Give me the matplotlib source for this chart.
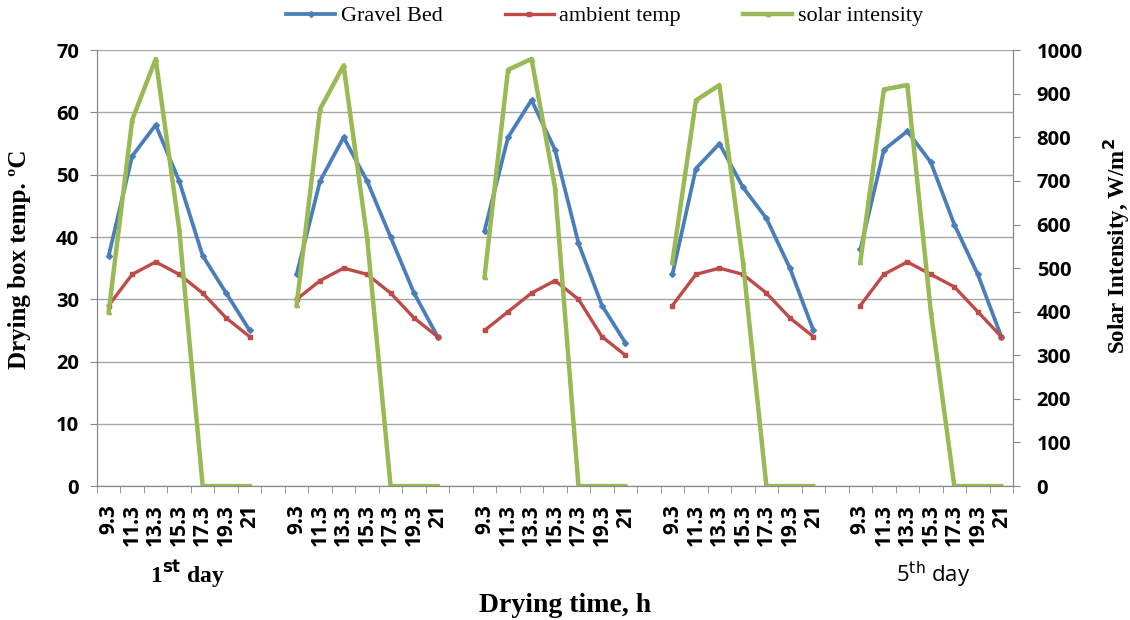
import numpy as np
import matplotlib.pyplot as plt

# drying time labels for one day, repeated for 5 days with a blank slot between days
hours = ['9.3', '11.3', '13.3', '15.3', '17.3', '19.3', '21']

gravel_bed = [
    [37, 53, 58, 49, 37, 31, 25],
    [34, 49, 56, 49, 40, 31, 24],
    [41, 56, 62, 54, 39, 29, 23],
    [34, 51, 55, 48, 43, 35, 25],
    [38, 54, 57, 52, 42, 34, 24],
]
ambient_temp = [
    [29, 34, 36, 34, 31, 27, 24],
    [30, 33, 35, 34, 31, 27, 24],
    [25, 28, 31, 33, 30, 24, 21],
    [29, 34, 35, 34, 31, 27, 24],
    [29, 34, 36, 34, 32, 28, 24],
]
solar_intensity = [
    [400, 840, 980, 590, 0, 0, 0],
    [415, 865, 965, 570, 0, 0, 0],
    [480, 955, 980, 685, 0, 0, 0],
    [515, 885, 920, 515, 0, 0, 0],
    [515, 910, 920, 400, 0, 0, 0],
]

def with_gaps(days):
    out = []
    for i, d in enumerate(days):
        out += list(d)
        if i < len(days) - 1:
            out.append(np.nan)
    return np.array(out, dtype=float)

labels = []
for i in range(5):
    labels += hours
    if i < 4:
        labels.append('')
x = np.arange(len(labels))

blue = '#4A7EBB'
red = '#BE4B48'
green = '#98B954'
serif = 'Liberation Serif'
sans = 'Open Sans'

fig = plt.figure(figsize=(11.3, 6.2), dpi=100)
ax = fig.add_subplot(1, 1, 1)
fig.subplots_adjust(left=0.0858, right=0.8965, top=0.919, bottom=0.216)
ax2 = ax.twinx()

l1, = ax.plot(x, with_gaps(gravel_bed), color=blue, lw=2.7, marker='D', ms=3, label='Gravel Bed')
l2, = ax.plot(x, with_gaps(ambient_temp), color=red, lw=2.4, marker='s', ms=3.5, label='ambient temp')
l3, = ax2.plot(x, with_gaps(solar_intensity), color=green, lw=3.2, marker='^', ms=3, label='solar intensity')

ax.set_ylim(0, 70)
ax.set_yticks(np.arange(0, 71, 10))
ax2.set_ylim(0, 1000)
ax2.set_yticks(np.arange(0, 1001, 100))
ax.set_xlim(-0.5, len(labels) - 0.5)

ax.set_xticks(x)
ax.set_xticklabels(labels, rotation=90, fontsize=15, fontweight='bold', family=sans)
ax.set_xticks(np.arange(-0.5, len(labels), 1), minor=True)
ax.tick_params(axis='x', which='major', length=0, pad=13)
ax.tick_params(axis='x', which='minor', length=5, color='#888888')

ax.grid(axis='y', color='#A6A6A6', lw=1)
ax.set_axisbelow(True)
for a in (ax, ax2):
    for s in a.spines.values():
        s.set_color('#888888')
    a.spines['top'].set_visible(False)
ax.tick_params(axis='y', length=5, color='#888888', pad=8)
ax2.tick_params(axis='y', length=5, color='#888888', pad=12)
for t in ax.get_yticklabels() + ax2.get_yticklabels():
    t.set_fontsize(14.5)
    t.set_fontweight('bold')
    t.set_family(sans)

ax.set_ylabel('Drying box temp. ºC', fontsize=18, fontweight='bold', family=serif)
ax.yaxis.set_label_coords(-0.072, 0.52)
ax2.set_ylabel(r'Solar Intensity, W/m$^\mathbf{2}$', fontsize=16.5, fontweight='bold', family=serif)
ax2.yaxis.set_label_coords(1.097, 0.55)

fig.text(0.5, 0.024, 'Drying time, h', ha='center', va='center', fontsize=20, fontweight='bold', family=serif)
fig.text(0.166, 0.073, r'1$^{\mathbf{st}}$ day', ha='center', va='center', fontsize=17, fontweight='bold', family=serif)
fig.text(0.826, 0.073, r'5$^{\mathrm{th}}$ day', ha='center', va='center', fontsize=16, family=sans)

fig.legend(handles=[l1, l2, l3], loc='center', bbox_to_anchor=(0.535, 0.974), ncol=3,
           frameon=False, prop={'family': serif, 'size': 16},
           handlelength=2.2, handletextpad=0.25, columnspacing=2.8)

plt.savefig('out.png', dpi=100)
